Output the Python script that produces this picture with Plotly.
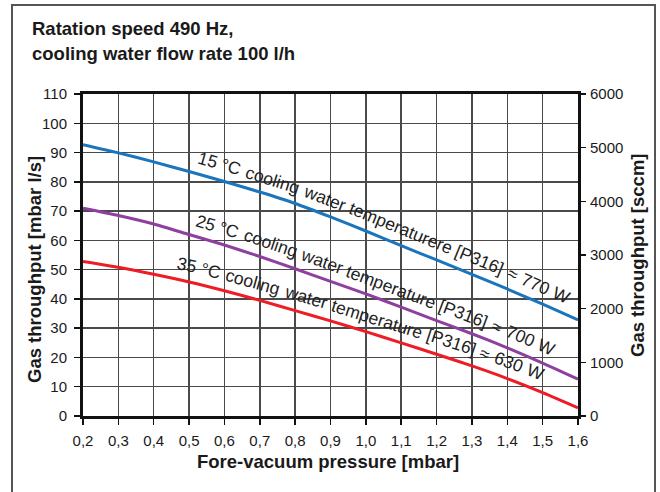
import numpy as np
import plotly.graph_objects as go

# ---------------- data ----------------
pressure = [0.2, 0.3, 0.4, 0.5, 0.6, 0.7, 0.8, 0.9, 1.0, 1.1, 1.2, 1.3, 1.4, 1.5, 1.6]
flow_15c = [92.7, 89.9, 86.8, 83.5, 80.1, 76.5, 72.6, 68.0, 63.2, 58.2, 53.3, 48.4, 43.4, 38.2, 32.8]
flow_25c = [71.0, 68.5, 65.6, 62.0, 58.4, 54.5, 50.3, 46.0, 41.7, 37.2, 32.6, 28.1, 23.3, 18.1, 12.6]
flow_35c = [52.8, 50.8, 48.4, 45.8, 42.8, 39.5, 36.0, 32.5, 28.8, 25.0, 21.1, 17.1, 12.8, 8.0, 2.8]

x_tick_vals = pressure
x_tick_text = ["0,2", "0,3", "0,4", "0,5", "0,6", "0,7", "0,8", "0,9", "1,0", "1,1", "1,2", "1,3", "1,4", "1,5", "1,6"]
y_tick_vals = [0, 10, 20, 30, 40, 50, 60, 70, 80, 90, 100, 110]
y2_tick_vals = [0, 1000, 2000, 3000, 4000, 5000, 6000]

curve_labels = [
    "15 °C cooling water temperaturere [P316] ≈ 770 W",
    "25 °C cooling water temperature [P316] ≈ 700 W",
    "35 °C cooling water temperature [P316] ≈ 630 W",
]
label_start = [0.514, 0.508, 0.457]
label_end = [1.555, 1.513, 1.484]
colors = ["#1b75bc", "#8e3f9f", "#ee1c25"]

title_lines = ["Ratation speed 490 Hz,", "cooling water flow rate 100 l/h"]
x_title = "Fore-vacuum pressure [mbar]"
y_title = "Gas throughput [mbar l/s]"
y2_title = "Gas throughput [sccm]"

# ---------------- layout geometry ----------------
W, H = 660, 492
L, R, T, B = 83, 82, 94, 76
PW, PH = W - L - R, H - T - B
X0, X1, Y0, Y1 = 0.2, 1.6, 0, 110

FONT = "Liberation Sans, Arial, sans-serif"
TXT = "#1a1a1a"


def to_px(x, y):
    return L + (np.asarray(x) - X0) / (X1 - X0) * PW, T + (Y1 - np.asarray(y)) / (Y1 - Y0) * PH


def to_data(px, py):
    return X0 + (px - L) / PW * (X1 - X0), Y1 - (py - T) / PH * (Y1 - Y0)


def px_to_paper(px, py):
    return (px - L) / PW, (T + PH - py) / PH


# approximate Arial advance widths (per 1000 em)
WID = {" ": 278, "c": 500, "l": 222, "i": 222, "t": 278, "r": 333, "m": 833, "w": 722,
       "[": 278, "]": 278, "P": 667, "W": 944, "C": 722, "°": 400, "≈": 584}


def text_w(s):
    return sum(WID.get(ch, 556) for ch in s)


fig = go.Figure()
series = [flow_15c, flow_25c, flow_35c]
for vals, col in zip(series, colors):
    fig.add_trace(go.Scatter(x=pressure, y=vals, mode="lines",
                             line=dict(color=col, width=3, shape="spline", smoothing=0.6),
                             showlegend=False, hoverinfo="skip"))
fig.add_trace(go.Scatter(x=[None], y=[None], yaxis="y2", showlegend=False, hoverinfo="skip"))

annotations = []
OFFSET = 16.0
for vals, text, xs0, xs1 in zip(series, curve_labels, label_start, label_end):
    xs = np.linspace(xs0, xs1, 600)
    ys = np.interp(xs, pressure, vals)
    px, py = to_px(xs, ys)
    seg = np.hypot(np.diff(px), np.diff(py))
    arc = np.concatenate([[0], np.cumsum(seg)])
    words = text.split(" ")
    scale = arc[-1] / text_w(text)
    pos = 0.0
    for wd in words:
        ww = text_w(wd)
        sa, sb = pos * scale, (pos + ww) * scale
        ax_, ay_ = np.interp(sa, arc, px), np.interp(sa, arc, py)
        bx_, by_ = np.interp(sb, arc, px), np.interp(sb, arc, py)
        dx, dy = bx_ - ax_, by_ - ay_
        n = np.hypot(dx, dy)
        tx, ty = dx / n, dy / n
        cx = (ax_ + bx_) / 2 + ty * OFFSET
        cy = (ay_ + by_) / 2 - tx * OFFSET
        ang = np.degrees(np.arctan2(dy, dx))
        dxv, dyv = to_data(cx, cy)
        annotations.append(dict(x=dxv, y=dyv, xref="x", yref="y", text=wd, showarrow=False,
                                textangle=ang, xanchor="center", yanchor="middle",
                                font=dict(family=FONT, size=17.5, color="#222")))
        pos += ww + WID[" "]

# chart title (two lines)
for line, cy in zip(title_lines, [29, 54]):
    xp, yp = px_to_paper(30, cy)
    annotations.append(dict(x=xp, y=yp, xref="paper", yref="paper", text=f"<b>{line}</b>",
                            showarrow=False, xanchor="left", yanchor="middle",
                            font=dict(family=FONT, size=18.5, color=TXT)))

# axis titles
xp, yp = px_to_paper(328, 461)
annotations.append(dict(x=xp, y=yp, xref="paper", yref="paper", text=f"<b>{x_title}</b>",
                        showarrow=False, xanchor="center", yanchor="middle",
                        font=dict(family=FONT, size=18.5, color=TXT)))
xp, yp = px_to_paper(34, 270)
annotations.append(dict(x=xp, y=yp, xref="paper", yref="paper", text=f"<b>{y_title}</b>",
                        showarrow=False, textangle=-90, xanchor="center", yanchor="middle",
                        font=dict(family=FONT, size=18.5, color=TXT)))
xp, yp = px_to_paper(637, 255)
annotations.append(dict(x=xp, y=yp, xref="paper", yref="paper", text=f"<b>{y2_title}</b>",
                        showarrow=False, textangle=-90, xanchor="center", yanchor="middle",
                        font=dict(family=FONT, size=18.5, color=TXT)))

bx0, by0 = px_to_paper(12, 520)
bx1, by1 = px_to_paper(655, 5)

fig.update_layout(
    width=W, height=H,
    margin=dict(l=L, r=R, t=T, b=B, autoexpand=False),
    paper_bgcolor="white", plot_bgcolor="white",
    hovermode=False,
    xaxis=dict(range=[X0, X1], tickvals=x_tick_vals, ticktext=x_tick_text,
               showgrid=True, gridcolor="#4a4a4a", gridwidth=1.5, zeroline=False,
               showline=True, linecolor="#111", linewidth=3, mirror=True,
               ticks="outside", ticklen=6, tickwidth=1.5, tickcolor="#111",
               ticklabelstandoff=3,
               tickfont=dict(family=FONT, size=15, color=TXT)),
    yaxis=dict(range=[Y0, Y1], tickvals=y_tick_vals,
               showgrid=True, gridcolor="#4a4a4a", gridwidth=1.5, zeroline=False,
               showline=True, linecolor="#111", linewidth=3,
               ticks="outside", ticklen=6, tickwidth=1.5, tickcolor="#111",
               ticklabelstandoff=4,
               tickfont=dict(family=FONT, size=15, color=TXT)),
    yaxis2=dict(range=[0, 6000], tickvals=y2_tick_vals, overlaying="y", side="right",
                showgrid=False, zeroline=False,
                showline=True, linecolor="#111", linewidth=3,
                ticks="outside", ticklen=5, tickwidth=1.5, tickcolor="#111",
                ticklabelstandoff=1,
                tickfont=dict(family=FONT, size=15, color=TXT)),
    annotations=annotations,
    shapes=[dict(type="rect", xref="paper", yref="paper",
                 x0=bx0, x1=bx1, y0=by0, y1=by1,
                 line=dict(color="#555", width=2), fillcolor="rgba(0,0,0,0)", layer="below")],
)

fig.write_html("out.html", config={"displayModeBar": False, "staticPlot": True},
               post_script="document.body.style.margin='0';document.body.style.overflow='hidden';")
